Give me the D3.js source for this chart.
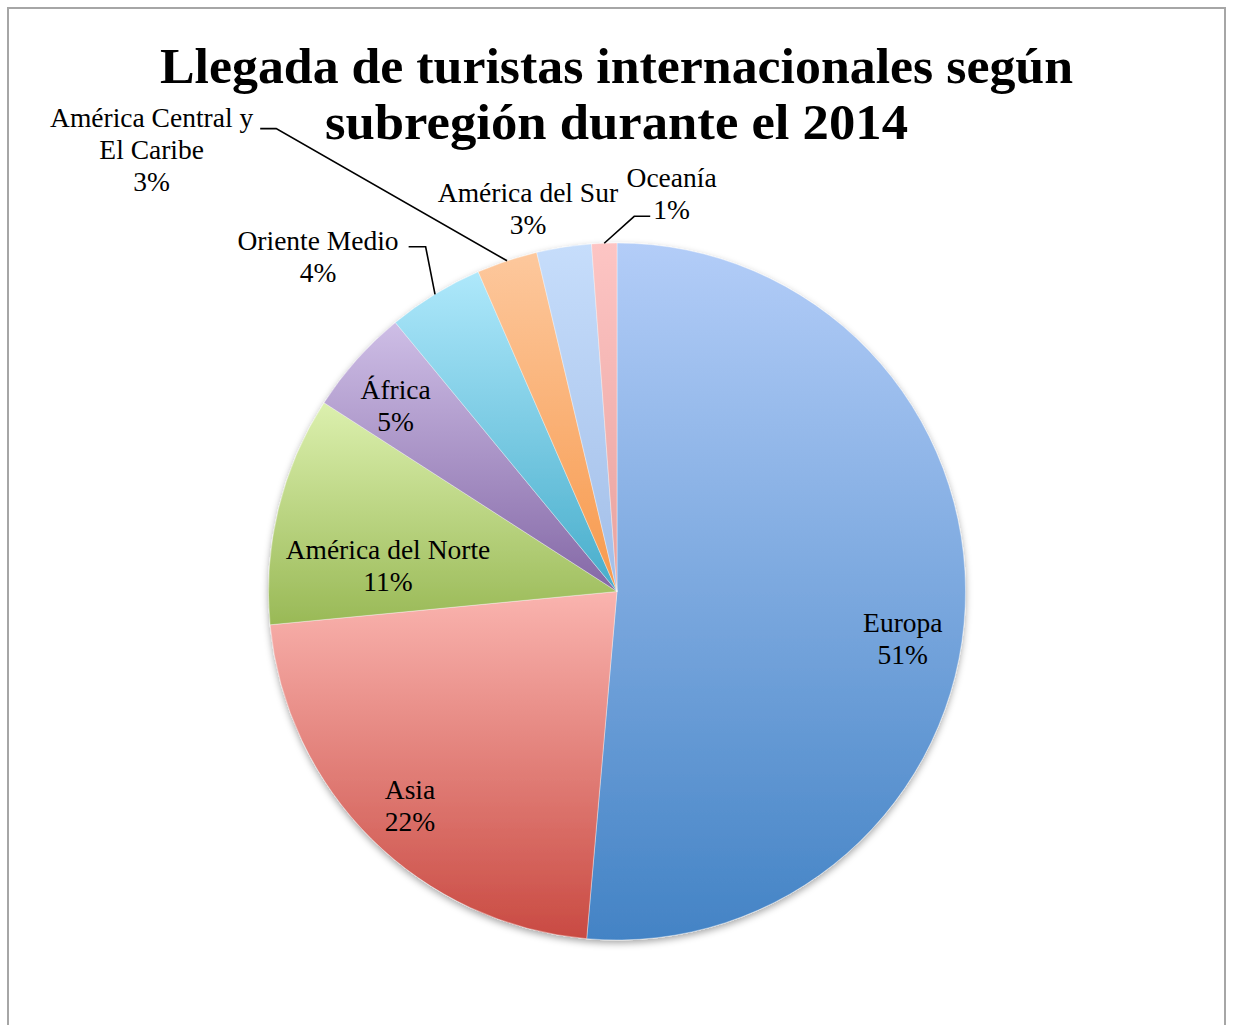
<!DOCTYPE html>
<html lang="es">
<head>
<meta charset="utf-8">
<title>Llegada de turistas internacionales según subregión durante el 2014</title>
<script src="https://cdn.jsdelivr.net/npm/d3@7/dist/d3.min.js"></script>
<style>
  html, body { margin: 0; padding: 0; background: #ffffff; }
  svg { display: block; }
  text { font-family: "Liberation Serif", "Times New Roman", serif; fill: #000; }
</style>
</head>
<body>
<svg id="chart" width="1233" height="1025"></svg>
<script>
// Subregions and arrivals (millions of international tourists, 2014)
const subregions = ["Europa", "Asia", "América del Norte", "África", "Oriente Medio",
                    "América Central y El Caribe", "América del Sur", "Oceanía"];
const arrivals = [581.8, 250.1, 120.4, 55.7, 50.4, 31.9, 28.7, 13.2];

// Label lines for each slice (the percentage line is appended)
const labelLines = [["Europa"], ["Asia"], ["América del Norte"], ["África"], ["Oriente Medio"],
                    ["América Central y", "El Caribe"], ["América del Sur"], ["Oceanía"]];

const titleLines = ["Llegada de turistas internacionales según", "subregión durante el 2014"];

// Gradient stops (top, bottom) per slice
const sliceColors = [
  ["#b3cdf8", "#4383c5"],
  ["#fab4af", "#c94a42"],
  ["#dcf0ae", "#99b956"],
  ["#cebee6", "#8468a6"],
  ["#aee8fb", "#47adcb"],
  ["#fdc89d", "#f7994c"],
  ["#c6ddfb", "#a2bee8"],
  ["#fdc5c4", "#e8a19d"]
];

// Label placement relative to each slice: angle shift (deg) from mid-angle, radius ratio
const labelPlacement = [
  { shift: 8.67,   ratio: 0.836 },
  { shift: -1.95,  ratio: 0.874 },
  { shift: -9.47,  ratio: 0.659 },
  { shift: -3.03,  ratio: 0.813 },
  { shift: -11.09, ratio: 1.268, leader: { line: 0, side: "right", gap: 10, dy: -3.3, elbow: 17 } },
  { shift: -28.70, ratio: 1.823, leader: { line: 0, side: "right", gap: 7,  dy: 1.6,  elbow: 16 } },
  { shift: -4.63,  ratio: 1.103 },
  { shift: 10.09,  ratio: 1.126, leader: { line: 1, side: "left",  gap: 3,  dy: -2.6, elbow: 16 } }
];

const W = 1233, H = 1025;
const cx = 617, cy = 591.5, R = 348.5;
const lineGap = 32;

const svg = d3.select("#chart");
const defs = svg.append("defs");

// Frame
svg.append("rect")
  .attr("x", 8).attr("y", 8).attr("width", 1217).attr("height", 1040)
  .attr("fill", "#ffffff").attr("stroke", "#a6a6a6").attr("stroke-width", 2);

// Title (two centred lines)
const titleWidths = [913, 583];
svg.append("g")
  .selectAll("text")
  .data(titleLines)
  .join("text")
  .attr("x", 616.5)
  .attr("y", (d, i) => 83 + i * 56)
  .attr("text-anchor", "middle")
  .attr("font-weight", "bold")
  .attr("font-size", 51.5)
  .attr("textLength", (d, i) => titleWidths[i])
  .attr("lengthAdjust", "spacingAndGlyphs")
  .text(d => d);

// Gradients
sliceColors.forEach((c, i) => {
  const g = defs.append("linearGradient")
    .attr("id", "grad" + i)
    .attr("x1", 0).attr("y1", 0).attr("x2", 0).attr("y2", 1);
  g.append("stop").attr("offset", "0%").attr("stop-color", c[0]);
  g.append("stop").attr("offset", "100%").attr("stop-color", c[1]);
});

// Soft shadow under the pie
const f = defs.append("filter").attr("id", "shadow")
  .attr("x", "-10%").attr("y", "-10%").attr("width", "120%").attr("height", "120%");
f.append("feDropShadow")
  .attr("dx", 0).attr("dy", 3).attr("stdDeviation", 3.5)
  .attr("flood-color", "#000").attr("flood-opacity", 0.35);

const data = subregions.map((name, i) => ({ name, value: arrivals[i], i }));
const total = d3.sum(arrivals);

const pie = d3.pie().sort(null).value(d => d.value).startAngle(0).endAngle(2 * Math.PI);
const arcs = pie(data);
const arc = d3.arc().innerRadius(0).outerRadius(R);

const gPie = svg.append("g")
  .attr("transform", `translate(${cx},${cy})`)
  .attr("filter", "url(#shadow)");

gPie.selectAll("path")
  .data(arcs)
  .join("path")
  .attr("d", arc)
  .attr("fill", d => `url(#grad${d.data.i})`)
  .attr("stroke", "#ffffff")
  .attr("stroke-opacity", 0.45)
  .attr("stroke-width", 0.8);

// Point on a circle for angle measured clockwise from 12 o'clock
const polar = (ang, r) => [cx + r * Math.sin(ang), cy - r * Math.cos(ang)];

const gLabels = svg.append("g")
  .attr("font-size", 27.5)
  .attr("text-anchor", "middle");

arcs.forEach(a => {
  const i = a.data.i;
  const p = labelPlacement[i];
  const mid = (a.startAngle + a.endAngle) / 2;
  const [ax, ay] = polar(mid + p.shift * Math.PI / 180, R * p.ratio);
  const pct = Math.round(a.data.value / total * 100) + "%";
  const lines = labelLines[i].concat([pct]);
  const y0 = ay - (lines.length - 1) * lineGap / 2;

  const t = gLabels.append("text");
  const spans = t.selectAll("tspan")
    .data(lines)
    .join("tspan")
    .attr("x", ax)
    .attr("y", (d, k) => y0 + k * lineGap)
    .text(d => d);

  if (p.leader) {
    const L = p.leader;
    const node = spans.nodes()[L.line];
    const w = node.getComputedTextLength();
    const ly = y0 + L.line * lineGap + L.dy;
    const sx = L.side === "right" ? ax + w / 2 + L.gap : ax - w / 2 - L.gap;
    const ex = L.side === "right" ? sx + L.elbow : sx - L.elbow;
    const [px, py] = polar(mid, R);
    svg.append("path")
      .attr("d", d3.line()([[sx, ly], [ex, ly], [px, py]]))
      .attr("fill", "none")
      .attr("stroke", "#000")
      .attr("stroke-width", 1.6);
  }
});
</script>
</body>
</html>
